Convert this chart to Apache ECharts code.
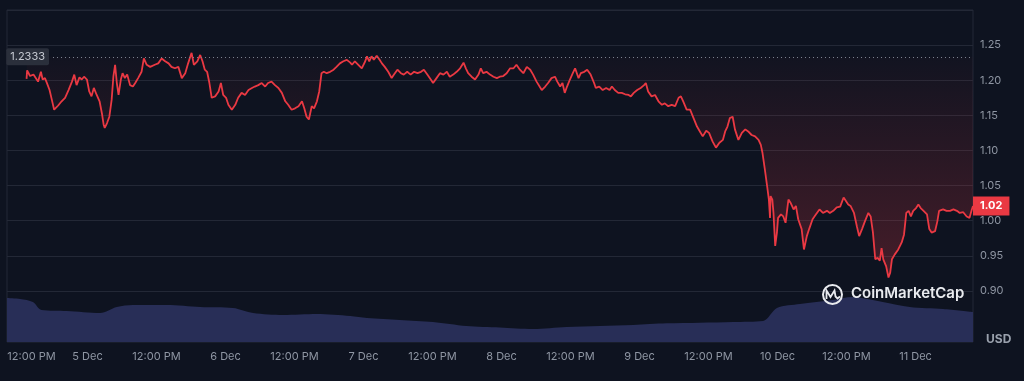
<!DOCTYPE html>
<html>
<head>
<meta charset="utf-8">
<script src="https://cdn.jsdelivr.net/npm/echarts@6/dist/echarts.min.js"></script>
<style>
  html, body { margin: 0; padding: 0; background: #0e1320; }
  #chart { width: 1024px; height: 381px; }
</style>
</head>
<body>
<div id="chart"></div>
<script>
// ---- DATA ----
// time expressed as hours since 4 Dec 00:00
const OPEN_PRICE = 1.2333;
const LAST_LABEL_DIGITS = 2;
const xTickHours = [12, 24, 36, 48, 60, 72, 84, 96, 108, 120, 132, 144, 156, 168];
const priceSeries = [
[13.4,1.202],[13.5,1.214],[14.0,1.206],[14.6,1.208],[15.0,1.203],[15.4,1.198],[15.9,1.212],[16.2,1.201],[16.6,1.203],[16.9,1.197],
[17.4,1.186],[17.8,1.172],[18.2,1.158],[18.5,1.156],[18.9,1.164],[19.5,1.170],[20.1,1.175],[20.7,1.186],[21.3,1.198],[21.7,1.208],
[22.1,1.193],[22.6,1.204],[23.0,1.201],[23.4,1.205],[23.9,1.201],[24.3,1.184],[24.7,1.177],[25.1,1.189],[25.6,1.179],[26.1,1.170],
[26.5,1.153],[26.8,1.137],[27.0,1.132],[27.4,1.139],[27.8,1.148],[28.2,1.172],[28.5,1.205],[28.8,1.222],[29.1,1.196],[29.4,1.179],
[29.8,1.201],[30.1,1.210],[30.5,1.203],[30.9,1.208],[31.4,1.193],[31.9,1.191],[32.3,1.196],[32.8,1.203],[33.4,1.212],[33.8,1.231],
[34.3,1.222],[34.9,1.219],[35.7,1.222],[36.3,1.224],[36.9,1.231],[37.5,1.227],[38.1,1.224],[38.6,1.219],[39.2,1.217],[39.8,1.219],
[40.4,1.203],[41.0,1.210],[41.5,1.224],[42.1,1.239],[42.5,1.222],[43.1,1.227],[43.6,1.236],[44.0,1.227],[44.4,1.215],[44.8,1.212],
[45.2,1.196],[45.6,1.175],[46.2,1.177],[46.8,1.184],[47.2,1.196],[47.6,1.179],[48.1,1.175],[48.5,1.165],[49.1,1.158],[49.7,1.165],
[50.2,1.175],[50.8,1.182],[51.4,1.179],[52.0,1.186],[52.6,1.189],[53.1,1.191],[53.7,1.193],[54.3,1.196],[54.9,1.191],[55.4,1.196],
[56.0,1.198],[56.6,1.193],[57.2,1.189],[57.8,1.182],[58.4,1.170],[58.9,1.165],[59.5,1.158],[60.1,1.160],[60.7,1.163],[61.3,1.170],
[61.7,1.160],[62.1,1.148],[62.5,1.144],[63.0,1.163],[63.4,1.160],[63.9,1.170],[64.3,1.184],[64.7,1.210],[65.1,1.212],[65.6,1.210],
[66.2,1.212],[66.8,1.215],[67.3,1.219],[67.9,1.224],[68.5,1.227],[69.1,1.229],[69.7,1.225],[70.0,1.222],[70.5,1.227],[71.1,1.222],
[71.7,1.217],[72.3,1.227],[72.6,1.234],[73.0,1.227],[73.4,1.234],[73.8,1.229],[74.3,1.235],[74.8,1.229],[75.2,1.224],[75.7,1.219],
[76.3,1.212],[76.9,1.203],[77.3,1.208],[77.9,1.215],[78.5,1.210],[79.0,1.208],[79.6,1.212],[80.2,1.208],[80.8,1.212],[81.4,1.210],
[82.0,1.212],[82.5,1.215],[83.1,1.208],[83.7,1.201],[84.1,1.196],[84.7,1.203],[85.3,1.210],[85.9,1.208],[86.5,1.212],[87.0,1.205],
[87.6,1.208],[88.2,1.212],[88.8,1.217],[89.4,1.225],[89.8,1.217],[90.2,1.210],[90.8,1.205],[91.4,1.201],[92.0,1.208],[92.4,1.217],
[92.8,1.210],[93.4,1.212],[94.0,1.208],[94.6,1.205],[95.2,1.203],[95.7,1.205],[96.3,1.206],[96.9,1.210],[97.5,1.217],[98.1,1.217],
[98.6,1.222],[99.2,1.215],[99.8,1.210],[100.4,1.219],[101.0,1.215],[101.5,1.208],[102.1,1.198],[103.0,1.186],[103.6,1.191],[104.1,1.196],
[104.7,1.203],[105.3,1.205],[105.7,1.198],[106.2,1.191],[106.6,1.196],[107.0,1.182],[107.4,1.191],[107.9,1.201],[108.4,1.210],[108.8,1.217],
[109.4,1.203],[109.8,1.210],[110.4,1.212],[110.9,1.215],[111.5,1.208],[112.1,1.196],[112.4,1.189],[113.0,1.191],[113.6,1.186],[114.2,1.189],
[114.8,1.186],[115.2,1.191],[115.7,1.186],[116.3,1.182],[116.9,1.182],[117.5,1.180],[118.1,1.179],[118.5,1.177],[119.0,1.182],[119.6,1.186],
[120.2,1.189],[120.8,1.193],[121.1,1.196],[121.5,1.184],[122.1,1.177],[122.7,1.179],[123.3,1.170],[123.9,1.165],[124.4,1.167],[125.0,1.163],
[125.6,1.165],[126.2,1.163],[126.8,1.175],[127.2,1.177],[127.6,1.170],[128.2,1.158],[128.8,1.158],[129.4,1.146],[130.0,1.134],[130.5,1.127],
[131.0,1.120],[131.6,1.128],[132.1,1.125],[132.7,1.113],[133.3,1.104],[133.9,1.111],[134.5,1.115],[134.9,1.127],[135.3,1.134],[135.7,1.146],
[136.2,1.148],[136.6,1.130],[137.2,1.115],[137.8,1.125],[138.4,1.130],[138.9,1.127],[139.5,1.122],[140.1,1.120],[140.7,1.115],[141.1,1.108],
[141.4,1.096],[141.8,1.073],[142.2,1.049],[142.5,1.030],[142.7,1.004],[142.8,1.035],[143.1,1.030],[143.3,1.011],[143.6,0.964],[143.9,0.983],
[144.1,1.004],[144.6,1.009],[145.0,1.006],[145.4,0.997],[145.9,1.030],[146.3,1.025],[146.8,1.016],[147.2,1.021],[147.6,1.002],[148.2,0.988],
[148.6,0.959],[149.1,0.978],[149.5,0.988],[150.1,1.002],[150.7,1.009],[151.3,1.016],[151.9,1.011],[152.6,1.014],[153.1,1.011],[153.7,1.014],
[154.3,1.019],[154.9,1.020],[155.5,1.033],[155.9,1.028],[156.3,1.023],[156.7,1.021],[157.3,1.011],[157.8,0.992],[158.2,0.978],[158.7,0.988],
[159.2,0.999],[159.8,1.011],[160.2,1.006],[160.6,0.983],[161.0,0.945],[161.4,0.947],[161.8,0.943],[162.1,0.961],[162.4,0.945],[162.9,0.935],
[163.3,0.919],[163.6,0.926],[163.9,0.945],[164.4,0.952],[165.0,0.959],[165.6,0.969],[166.0,0.980],[166.4,1.011],[166.8,1.014],[167.2,1.006],
[167.6,1.014],[168.1,1.018],[168.5,1.023],[168.9,1.018],[169.4,1.014],[170.0,1.009],[170.4,0.988],[170.8,0.983],[171.4,0.985],[171.8,0.999],
[172.1,1.014],[172.8,1.016],[173.4,1.014],[174.0,1.014],[174.6,1.016],[175.2,1.014],[175.7,1.011],[176.3,1.012],[176.9,1.006],[177.4,1.004],
[177.8,1.016],[178.0,1.021]
];
// 24h volume (arbitrary units)
const volumeSeries = [
[10,44],[12.3,43],[14.5,40],[16,32],[20.4,31],[26.2,29],[29.1,35],[31.9,37],[37.8,37],[43.6,35],
[49.3,34],[52.8,29],[58,27],[63.9,28],[69.7,26],[72.6,24],[78.3,22],[84.1,20],[89.9,16],[95.7,14.5],
[101.5,13],[107.3,15],[113.1,16],[118.9,17],[124.7,18.7],[130.5,19.3],[136.3,20],[141.5,21],[143.9,34],[147.9,38],
[153.6,42],[157,45],[162.3,40],[167,35],[172.8,33],[178,30]
];

// ---- CHART ----
const FONT = 'Inter, "Noto Sans", sans-serif';
const GRID_COLOR = '#232836';
const LABEL_COLOR = '#8f96a3';
const chart = echarts.init(document.getElementById('chart'), null, { renderer: 'canvas' });

function xLabel(h) {
  if (h % 24 === 12) {
    const t = '12:00 PM';
    return h === xTickHours[0] ? '{first|' + t + '}' : t;
  }
  return (4 + h / 24) + ' Dec';
}

const option = {
  backgroundColor: '#0e1320',
  animation: false,
  textStyle: { fontFamily: FONT },
  grid: [
    { left: 7, right: 51, top: 10, bottom: 55 },
    { left: 7, right: 51, top: 10, bottom: 39, show: true, borderColor: GRID_COLOR, borderWidth: 1 }
  ],
  xAxis: [
    { gridIndex: 0, type: 'value', min: 10, max: 178, show: false },
    {
      gridIndex: 1, type: 'value', min: 10, max: 178,
      axisLine: { show: false }, axisTick: { show: false }, splitLine: { show: false },
      axisLabel: {
        customValues: xTickHours,
        formatter: xLabel,
        color: LABEL_COLOR, fontSize: 11, fontFamily: FONT, margin: 9,
        rich: { first: { color: LABEL_COLOR, fontSize: 11, fontFamily: FONT, padding: [0, 0, 0, 26] } }
      }
    }
  ],
  yAxis: [
    {
      gridIndex: 0, type: 'value', position: 'right', min: 0.85, max: 1.30, interval: 0.05,
      axisLine: { show: false }, axisTick: { show: false },
      splitLine: { show: true, showMinLine: false, lineStyle: { color: GRID_COLOR, width: 1 } },
      axisLabel: {
        showMinLabel: false, showMaxLabel: false,
        color: LABEL_COLOR, fontSize: 11, fontFamily: FONT, margin: 7,
        formatter: v => v.toFixed(2)
      }
    },
    { gridIndex: 1, type: 'value', min: 0, max: 332, show: false }
  ],
  series: [
    {
      name: 'Volume', type: 'line', xAxisIndex: 1, yAxisIndex: 1,
      data: volumeSeries, smooth: 0.3, symbol: 'none', z: 1,
      lineStyle: { width: 0 },
      areaStyle: { color: '#282e57', opacity: 1 }
    },
    {
      name: 'Price', type: 'line', xAxisIndex: 0, yAxisIndex: 0,
      data: priceSeries, symbol: 'none', z: 3,
      lineStyle: { color: '#ea3943', width: 1.8 },
      areaStyle: {
        origin: OPEN_PRICE,
        color: new echarts.graphic.LinearGradient(0, 0, 0, 1, [
          { offset: 0, color: 'rgba(234,57,67,0.02)' },
          { offset: 1, color: 'rgba(234,57,67,0.36)' }
        ])
      },
      endLabel: {
        show: true, distance: 0,
        formatter: p => p.value[1].toFixed(LAST_LABEL_DIGITS),
        backgroundColor: '#ea3943', color: '#ffffff', fontWeight: 'bold',
        fontSize: 11, fontFamily: FONT, padding: [4, 7, 4, 7]
      },
      markLine: {
        silent: true, symbol: ['none', 'none'],
        lineStyle: { color: '#7a818e', type: [1, 3], width: 1 },
        label: {
          position: 'start', distance: 4,
          formatter: OPEN_PRICE.toFixed(4),
          backgroundColor: '#2a2f3b', color: '#c6cad2', fontSize: 11, fontFamily: FONT,
          padding: [3, 4, 3, 4], borderRadius: 2
        },
        data: [[{ coord: [18, OPEN_PRICE] }, { coord: [178, OPEN_PRICE] }]]
      }
    }
  ],
  graphic: [
    { type: 'circle', shape: { cx: 832.5, cy: 294.5, r: 9.5 }, style: { fill: 'none', stroke: '#e9ebef', lineWidth: 2 }, z: 10 },
    { type: 'polyline', shape: { points: [[826.5, 299], [826.5, 290.5], [830.5, 297], [834.5, 290.5], [835.5, 296.5], [837.5, 298.5], [840, 296.5]] }, style: { fill: 'none', stroke: '#e9ebef', lineWidth: 1.8 }, z: 10 },
    { type: 'text', left: 851, top: 286, style: { text: 'CoinMarketCap', fill: '#e9ebef', font: '600 15px ' + FONT }, z: 10 },
    { type: 'text', left: 986, top: 333, style: { text: 'USD', fill: '#9aa1ad', font: 'bold 12px ' + FONT }, z: 10 }
  ]
};
chart.setOption(option);
</script>
</body>
</html>
